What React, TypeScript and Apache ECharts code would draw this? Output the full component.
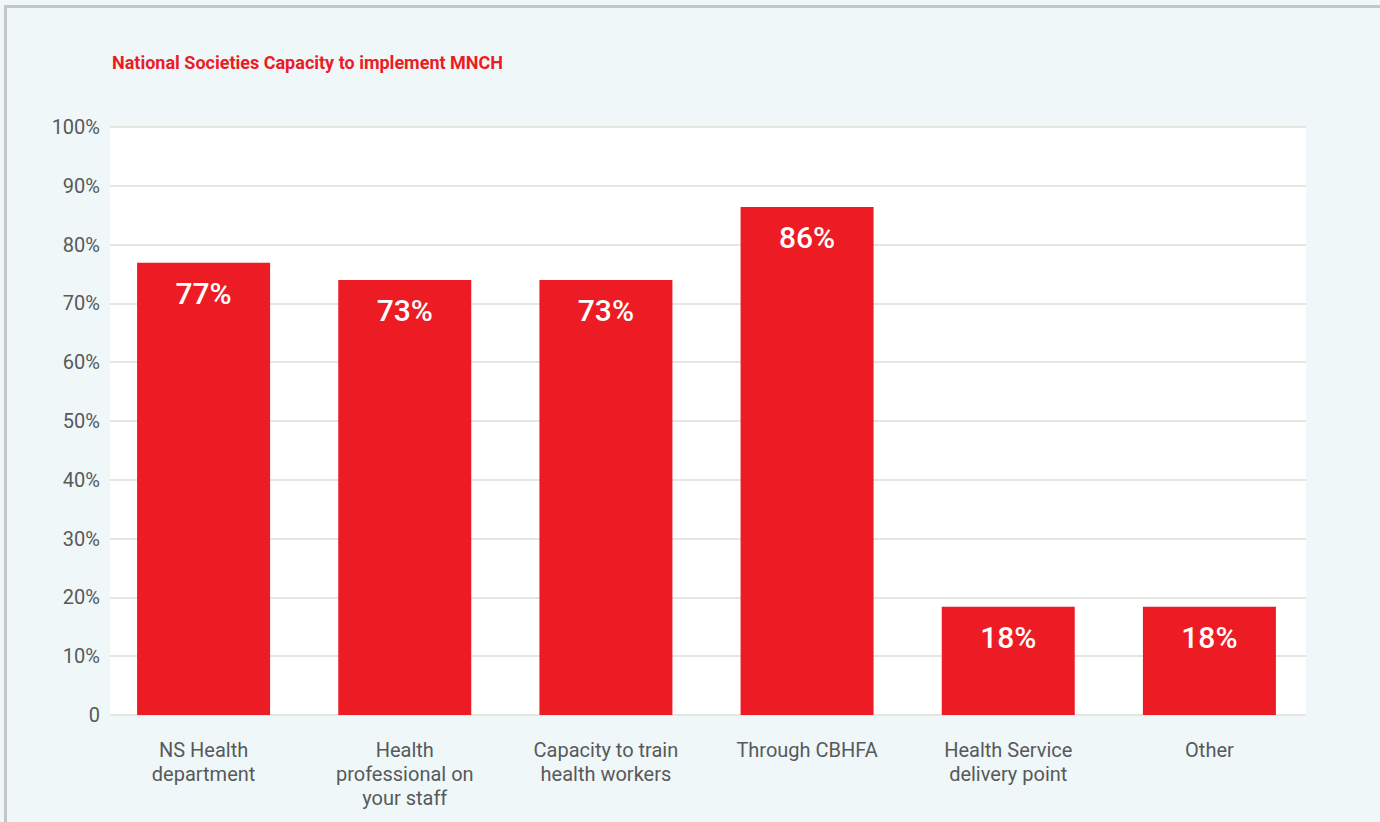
import React, { useEffect, useRef } from "react";
import * as echarts from "echarts";

const titleText = "National Societies Capacity to implement MNCH";
const categories = [
  "NS Health\ndepartment",
  "Health\nprofessional on\nyour staff",
  "Capacity to train\nhealth workers",
  "Through CBHFA",
  "Health Service\ndelivery point",
  "Other",
];
const barValues = [76.9, 74, 74, 86.4, 18.4, 18.4];
const valueLabels = ["77%", "73%", "73%", "86%", "18%", "18%"];
const yTicks = ["0", "10%", "20%", "30%", "40%", "50%", "60%", "70%", "80%", "90%", "100%"];

const RED = "#ed1c24";
const GRAY = "#58595b";

export default function App() {
  const ref = useRef<HTMLDivElement>(null);
  useEffect(() => {
    if (!ref.current) return;
    const chart = echarts.init(ref.current, undefined, { renderer: "svg" });
    chart.setOption({
      animation: false,
      backgroundColor: "#eff7f9",
      textStyle: { fontFamily: "Roboto" },
      graphic: [
        {
          type: "rect",
          shape: { x: 5.5, y: 6.5, width: 1420, height: 900 },
          style: { fill: "none", stroke: "#c3c7c9", lineWidth: 3 },
          z: 10,
        },
        {
          type: "text",
          x: 112,
          y: 62,
          style: {
            text: titleText,
            fill: RED,
            font: "bold 18px Roboto",
            verticalAlign: "middle",
          },
        },
      ],
      grid: [
        { left: 103, width: 1207, top: 127, bottom: 107 },
        {
          left: 110,
          width: 1196,
          top: 127,
          bottom: 107,
          show: true,
          backgroundColor: "#ffffff",
          borderWidth: 0,
        },
      ],
      xAxis: [
        {
          type: "category",
          gridIndex: 0,
          data: categories,
          axisLine: { show: false },
          axisTick: { show: false },
          axisLabel: {
            color: GRAY,
            fontSize: 20,
            lineHeight: 24,
            margin: 23,
            fontFamily: "Roboto",
          },
        },
        { type: "category", gridIndex: 1, data: categories, show: false },
      ],
      yAxis: [
        { type: "value", gridIndex: 0, min: 0, max: 100, interval: 10, show: false },
        {
          type: "value",
          gridIndex: 1,
          min: 0,
          max: 100,
          interval: 10,
          axisLine: { show: false },
          axisTick: { show: false },
          splitLine: { show: true, lineStyle: { color: "#e6e6e1", width: 2 } },
          axisLabel: {
            color: GRAY,
            fontSize: 20,
            margin: 10,
            fontFamily: "Roboto",
            formatter: (v: number) => yTicks[Math.round(v / 10)],
          },
        },
      ],
      series: [
        {
          type: "bar",
          xAxisIndex: 0,
          yAxisIndex: 0,
          data: barValues,
          barWidth: 133,
          itemStyle: { color: RED },
          z: 5,
          label: {
            show: true,
            position: "insideTop",
            distance: 16,
            color: "#ffffff",
            fontSize: 30,
            fontWeight: 500,
            fontFamily: "Roboto",
            formatter: (p: any) => valueLabels[p.dataIndex],
          },
        },
      ],
    });
    return () => chart.dispose();
  }, []);
  return (
    <div
      ref={ref}
      style={{ position: "fixed", left: 0, top: 0, width: 1380, height: 822 }}
    />
  );
}
